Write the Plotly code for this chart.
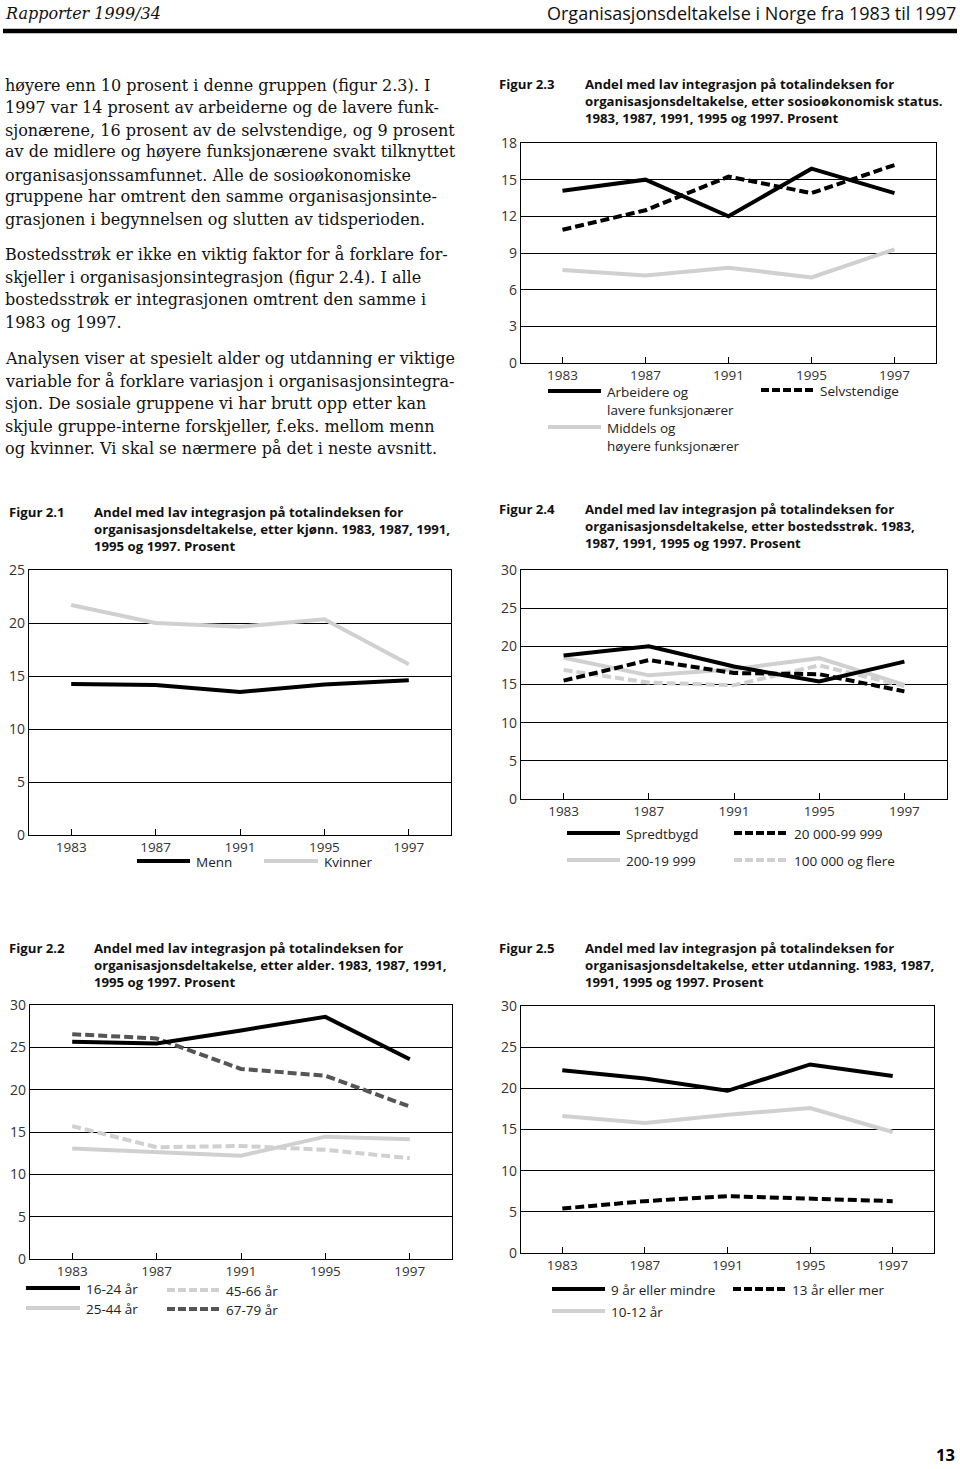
import plotly.graph_objects as go

# ---- data ----
years = ["1983", "1987", "1991", "1995", "1997"]

# Figur 2.3 sosiooekonomisk status
arbeidere = [14.1, 15.0, 12.0, 15.9, 13.9]
selvstendige = [10.9, 12.5, 15.25, 13.9, 16.2]
middels = [7.6, 7.15, 7.8, 7.0, 9.3]

# Figur 2.1 kjoenn
menn = [14.25, 14.15, 13.5, 14.2, 14.6]
kvinner = [21.7, 20.0, 19.65, 20.35, 16.1]

# Figur 2.4 bostedsstroek
spredtbygd = [18.8, 20.0, 17.35, 15.4, 18.0]
by_20000 = [15.5, 18.2, 16.5, 16.35, 14.1]
by_200 = [18.5, 16.2, 17.0, 18.45, 14.95]
by_100000 = [16.9, 15.25, 14.9, 17.5, 14.8]

# Figur 2.2 alder
alder_16_24 = [25.65, 25.45, 27.0, 28.6, 23.6]
alder_25_44 = [13.05, 12.65, 12.2, 14.45, 14.15]
alder_45_66 = [15.7, 13.2, 13.35, 12.9, 11.9]
alder_67_79 = [26.55, 26.05, 22.45, 21.65, 18.0]

# Figur 2.5 utdanning
ni_aar = [22.2, 21.2, 19.7, 22.9, 21.5]
ti_tolv_aar = [16.65, 15.8, 16.8, 17.6, 14.7]
tretten_aar = [5.4, 6.3, 6.9, 6.6, 6.3]

ticks_18 = [0, 3, 6, 9, 12, 15, 18]
ticks_25 = [0, 5, 10, 15, 20, 25]
ticks_30 = [0, 5, 10, 15, 20, 25, 30]

W, H = 960, 1469
BLACK = "#000000"
LGREY = "#d0d0d0"
DGREY = "#555555"
SANS = "Open Sans"
SERIF = "DejaVu Serif"

def px(x):
	return x / W

def py(y):
	return 1 - y / H

fig = go.Figure()
layout = {}
annotations = []
shapes = []

def add_panel(n, x0, x1, y0, y1, yticks, series):
	''' one small line chart, placed by pixel box '''
	xa = "xaxis" if n == 1 else "xaxis%d" % n
	ya = "yaxis" if n == 1 else "yaxis%d" % n
	xr = "x" if n == 1 else "x%d" % n
	yr = "y" if n == 1 else "y%d" % n
	layout[xa] = dict(
		domain=[px(x0), px(x1)], anchor=yr, type="category",
		categoryorder="array", categoryarray=years, range=[-0.5, 4.5],
		showline=True, linecolor=BLACK, linewidth=1.3, mirror=True,
		ticks="inside", ticklen=6, tickcolor=BLACK, tickwidth=1.2,
		showgrid=False, tickfont=dict(family=SANS, size=13.5, color="#333"),
		automargin=False, fixedrange=True)
	layout[ya] = dict(
		domain=[py(y1), py(y0)], anchor=xr, range=[yticks[0], yticks[-1]],
		tickvals=yticks, showline=True, linecolor=BLACK, linewidth=1.3,
		mirror=True, showgrid=True, gridcolor=BLACK, gridwidth=1.2,
		zeroline=False, ticks="", tickfont=dict(family=SANS, size=14, color="#333"),
		automargin=False, fixedrange=True)
	for vals, color, dash in series:
		fig.add_trace(go.Scatter(
			x=years, y=vals, xaxis=xr, yaxis=yr, mode="lines",
			line=dict(color=color, width=4, dash=dash), showlegend=False,
			hoverinfo="skip"))

def add_title(num, x, x_text, y_top, lines):
	annotations.append(dict(text="<b>Figur %s</b>" % num, x=px(x), y=py(y_top),
		xref="paper", yref="paper", xanchor="left", yanchor="top",
		showarrow=False, font=dict(family=SANS, size=13.2, color="#111")))
	annotations.append(dict(text="<br>".join("<b>%s</b>" % t for t in lines),
		x=px(x_text), y=py(y_top), xref="paper", yref="paper", xanchor="left",
		yanchor="top", align="left", showarrow=False,
		font=dict(family=SANS, size=13.2, color="#111")))

def add_key(x0, x1, y, color, dash, label_lines):
	shapes.append(dict(type="line", xref="paper", yref="paper",
		x0=px(x0), x1=px(x1), y0=py(y), y1=py(y),
		line=dict(color=color, width=4, dash=dash)))
	annotations.append(dict(text="<br>".join(label_lines), x=px(x1 + 4),
		y=py(y - 10), xref="paper", yref="paper", xanchor="left", yanchor="top",
		align="left", showarrow=False,
		font=dict(family=SANS, size=13.5, color="#222")))

DASH = "9px,4px"
KDASH = "8px,3px"

# Figur 2.3
add_panel(1, 521, 936, 143, 363, ticks_18, [
	(middels, LGREY, "solid"),
	(arbeidere, BLACK, "solid"),
	(selvstendige, BLACK, DASH)])
add_title("2.3", 497, 583, 73, [
	"Andel med lav integrasjon på totalindeksen for",
	"organisasjonsdeltakelse, etter sosioøkonomisk status.",
	"1983, 1987, 1991, 1995 og 1997. Prosent"])
add_key(548, 601, 391, BLACK, "solid", ["Arbeidere og", "lavere funksjonærer"])
add_key(548, 601, 427, LGREY, "solid", ["Middels og", "høyere funksjonærer"])
add_key(761, 814, 390, BLACK, KDASH, ["Selvstendige"])

# Figur 2.1
add_panel(2, 29, 451, 570, 835, ticks_25, [
	(kvinner, LGREY, "solid"),
	(menn, BLACK, "solid")])
add_title("2.1", 7, 92, 501, [
	"Andel med lav integrasjon på totalindeksen for",
	"organisasjonsdeltakelse, etter kjønn. 1983, 1987, 1991,",
	"1995 og 1997. Prosent"])
add_key(137, 190, 861, BLACK, "solid", ["Menn"])
add_key(264, 318, 861, LGREY, "solid", ["Kvinner"])

# Figur 2.4
add_panel(3, 521, 947, 570, 799, ticks_30, [
	(by_200, LGREY, "solid"),
	(by_100000, LGREY, DASH),
	(by_20000, BLACK, DASH),
	(spredtbygd, BLACK, "solid")])
add_title("2.4", 497, 583, 498, [
	"Andel med lav integrasjon på totalindeksen for",
	"organisasjonsdeltakelse, etter bostedsstrøk. 1983,",
	"1987, 1991, 1995 og 1997. Prosent"])
add_key(567, 620, 833, BLACK, "solid", ["Spredtbygd"])
add_key(734, 788, 833, BLACK, KDASH, ["20 000-99 999"])
add_key(567, 620, 860, LGREY, "solid", ["200-19 999"])
add_key(734, 788, 860, LGREY, KDASH, ["100 000 og flere"])

# Figur 2.2
add_panel(4, 30, 452, 1005, 1259, ticks_30, [
	(alder_25_44, LGREY, "solid"),
	(alder_45_66, LGREY, DASH),
	(alder_67_79, DGREY, DASH),
	(alder_16_24, BLACK, "solid")])
add_title("2.2", 7, 92, 937, [
	"Andel med lav integrasjon på totalindeksen for",
	"organisasjonsdeltakelse, etter alder. 1983, 1987, 1991,",
	"1995 og 1997. Prosent"])
add_key(26, 80, 1288, BLACK, "solid", ["16-24 år"])
add_key(167, 220, 1290, LGREY, KDASH, ["45-66 år"])
add_key(26, 80, 1308, LGREY, "solid", ["25-44 år"])
add_key(167, 220, 1309, DGREY, KDASH, ["67-79 år"])

# Figur 2.5
add_panel(5, 521, 934, 1006, 1253, ticks_30, [
	(ti_tolv_aar, LGREY, "solid"),
	(tretten_aar, BLACK, DASH),
	(ni_aar, BLACK, "solid")])
add_title("2.5", 497, 583, 937, [
	"Andel med lav integrasjon på totalindeksen for",
	"organisasjonsdeltakelse, etter utdanning. 1983, 1987,",
	"1991, 1995 og 1997. Prosent"])
add_key(552, 605, 1289, BLACK, "solid", ["9 år eller mindre"])
add_key(733, 786, 1289, BLACK, KDASH, ["13 år eller mer"])
add_key(552, 605, 1311, LGREY, "solid", ["10-12 år"])

# ---- page header, body text, page number ----
annotations.append(dict(text="<i>Rapporter 1999/34</i>", x=px(3), y=py(13),
	xref="paper", yref="paper", xanchor="left", yanchor="middle", showarrow=False,
	font=dict(family=SERIF, size=16, color="#111")))
annotations.append(dict(text="Organisasjonsdeltakelse i Norge fra 1983 til 1997",
	x=px(958), y=py(13), xref="paper", yref="paper", xanchor="right",
	yanchor="middle", showarrow=False, font=dict(family=SANS, size=18, color="#111")))
shapes.append(dict(type="line", xref="paper", yref="paper", x0=px(3), x1=px(957),
	y0=py(31), y1=py(31), line=dict(color="#000", width=4.5)))

body = [
	(86, "høyere enn 10 prosent i denne gruppen (figur 2.3). I"),
	(108, "1997 var 14 prosent av arbeiderne og de lavere funk-"),
	(130, "sjonærene, 16 prosent av de selvstendige, og 9 prosent"),
	(152, "av de midlere og høyere funksjonærene svakt tilknyttet"),
	(175, "organisasjonssamfunnet. Alle de sosioøkonomiske"),
	(197, "gruppene har omtrent den samme organisasjonsinte-"),
	(220, "grasjonen i begynnelsen og slutten av tidsperioden."),
	(254, "Bostedsstrøk er ikke en viktig faktor for å forklare for-"),
	(277, "skjeller i organisasjonsintegrasjon (figur 2.4). I alle"),
	(299, "bostedsstrøk er integrasjonen omtrent den samme i"),
	(322, "1983 og 1997."),
	(358, "Analysen viser at spesielt alder og utdanning er viktige"),
	(381, "variable for å forklare variasjon i organisasjonsintegra-"),
	(403, "sjon. De sosiale gruppene vi har brutt opp etter kan"),
	(426, "skjule gruppe-interne forskjeller, f.eks. mellom menn"),
	(448, "og kvinner. Vi skal se nærmere på det i neste avsnitt."),
]
for yy, t in body:
	annotations.append(dict(text=t, x=px(3), y=py(yy), xref="paper", yref="paper",
		xanchor="left", yanchor="middle", showarrow=False,
		font=dict(family=SERIF, size=16, color="#111")))

annotations.append(dict(text="<b>13</b>", x=px(957), y=py(1468), xref="paper",
	yref="paper", xanchor="right", yanchor="bottom", showarrow=False,
	font=dict(family=SANS, size=16.5, color="#000")))

fig.update_layout(
	width=W, height=H,
	margin=dict(l=0, r=0, t=0, b=0, pad=0, autoexpand=False),
	paper_bgcolor="white", plot_bgcolor="white", showlegend=False,
	annotations=annotations, shapes=shapes, **layout)

# pin the graph to the top-left corner of the page, no body margin
pin = ("document.documentElement.style.margin='0';"
	"document.body.style.margin='0';document.body.style.overflow='hidden';"
	"var d=document.getElementById('{plot_id}');"
	"d.style.position='fixed';d.style.top='0';d.style.left='0';")
fig.write_html("out.html", config={"displayModeBar": False}, post_script=pin)
